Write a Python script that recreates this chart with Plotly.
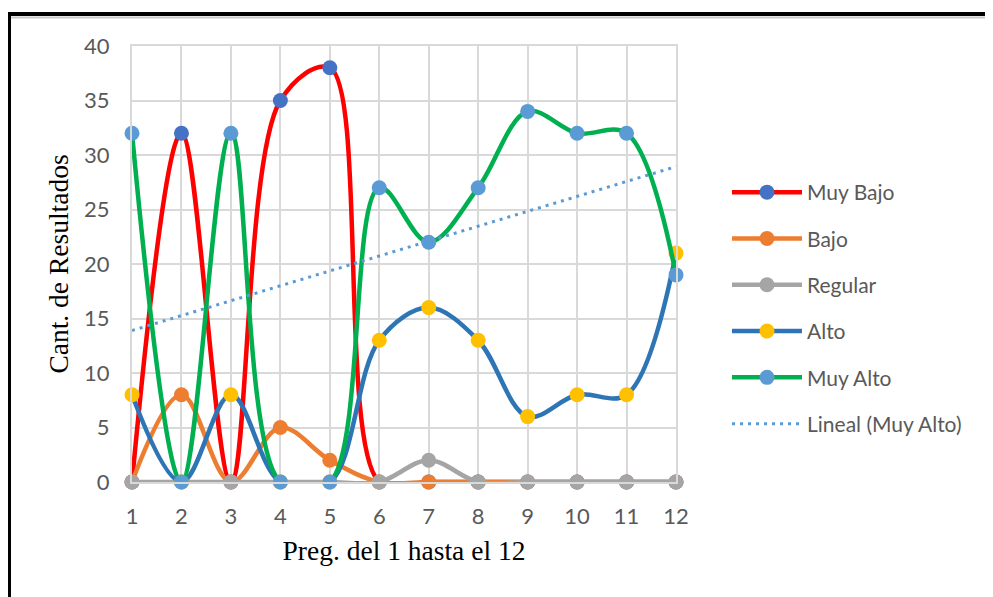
import numpy as np
import plotly.graph_objects as go

preguntas = list(range(1, 13))
muy_bajo = [0, 32, 0, 35, 38, 0, 0, 0, 0, 0, 0, 0]
bajo = [0, 8, 0, 5, 2, 0, 0, 0, 0, 0, 0, 0]
regular = [0, 0, 0, 0, 0, 0, 2, 0, 0, 0, 0, 0]
alto = [8, 0, 8, 0, 0, 13, 16, 13, 6, 8, 8, 21]
muy_alto = [32, 0, 32, 0, 0, 27, 22, 27, 34, 32, 32, 19]
y_ticks = [0, 5, 10, 15, 20, 25, 30, 35, 40]

series = [
    ("Muy Bajo", muy_bajo, "#FF0000", "#4472C4"),
    ("Bajo", bajo, "#ED7D31", "#ED7D31"),
    ("Regular", regular, "#A5A5A5", "#A5A5A5"),
    ("Alto", alto, "#2E75B6", "#FFC000"),
    ("Muy Alto", muy_alto, "#00B050", "#5B9BD5"),
]

W, H = 993, 597
OFF = 8  # page body margin
L = 132 - OFF
T = 46 - OFF
R = W + OFF - 676
B = H + OFF - 482
pw, ph = W - L - R, H - T - B


def px(page_x):
    return (page_x - OFF - L) / pw


def py(page_y):
    return ((H - B) - (page_y - OFF)) / ph


fig = go.Figure()
for i, (name, vals, lc, mc) in enumerate(series):
    fig.add_trace(go.Scatter(
        x=preguntas, y=vals, name=name, mode="lines+markers",
        line=dict(color=lc, width=4.5, shape="spline", smoothing=1),
        marker=dict(color=mc, size=15),
        legendgroup=f"g{i}", cliponaxis=False,
    ))

# linear trendline of Muy Alto
coef = np.polyfit(preguntas, muy_alto, 1)
trend = np.polyval(coef, preguntas)
fig.add_trace(go.Scatter(
    x=preguntas, y=trend, name="Lineal (Muy Alto)", mode="lines",
    line=dict(color="#5B9BD5", width=3, dash="3px,5px"),
    legendgroup="g5", cliponaxis=False,
))

fig.update_layout(
    width=W, height=H,
    margin=dict(l=L, r=R, t=T, b=B),
    paper_bgcolor="white", plot_bgcolor="white",
    showlegend=True,
    legend=dict(
        x=px(727), y=py(172), xanchor="left", yanchor="top",
        font=dict(family="Lato", size=21, color="#595959"),
        tracegroupgap=16, itemwidth=70, bgcolor="rgba(0,0,0,0)",
    ),
    xaxis=dict(
        range=[1, 12], tickvals=preguntas, showgrid=True,
        gridcolor="#D9D9D9", gridwidth=2, showline=True, linecolor="#D9D9D9",
        linewidth=2, mirror=True, zeroline=False,
        tickfont=dict(family="Lato", size=22, color="#595959"),
        ticklabelstandoff=14,
        title=dict(text="Preg. del 1 hasta el 12",
                   font=dict(family="Liberation Serif", size=27.5, color="black"),
                   standoff=12),
    ),
    yaxis=dict(
        range=[0, 40], tickvals=y_ticks, showgrid=True,
        gridcolor="#D9D9D9", gridwidth=2, showline=True, linecolor="#D9D9D9",
        linewidth=2, mirror=True, zeroline=False,
        tickfont=dict(family="Lato", size=22, color="#595959"),
        ticklabelstandoff=16,
        title=dict(text="Cant. de Resultados",
                   font=dict(family="Liberation Serif", size=27.5, color="black"),
                   standoff=7),
    ),
    shapes=[
        dict(type="line", xref="paper", yref="paper",
             x0=px(9), x1=px(1010), y0=py(17.5), y1=py(17.5),
             line=dict(color="#C8C8C8", width=2)),
        dict(type="rect", xref="paper", yref="paper",
             x0=px(9), x1=px(1020), y0=py(640), y1=py(14),
             line=dict(color="black", width=4)),
    ],
)

fig.write_html("out.html")
